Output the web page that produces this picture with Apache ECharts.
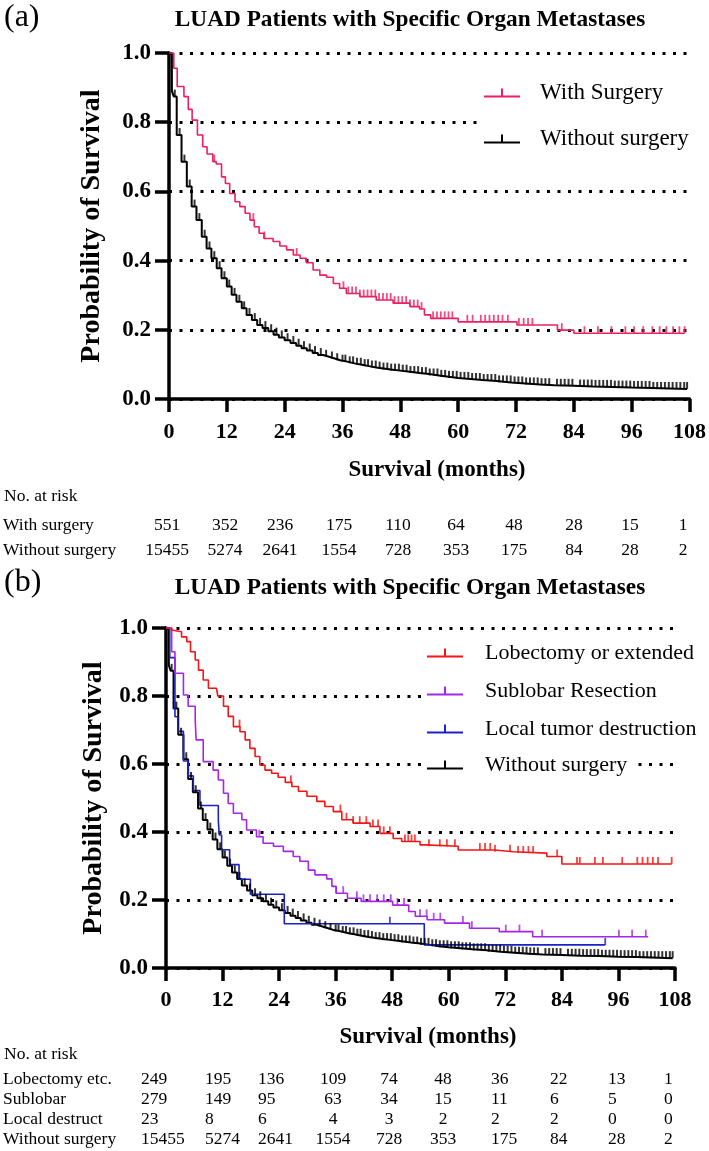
<!DOCTYPE html>
<html>
<head>
<meta charset="utf-8">
<script src="https://cdn.jsdelivr.net/npm/echarts@6/dist/echarts.min.js"></script>
<style>html,body{margin:0;padding:0;background:#fff}#c{width:709px;height:1151px}</style>
</head>
<body>
<div id="c"></div>
<script>
// ---------------- DATA ----------------
const titleText = "LUAD Patients with Specific Organ Metastases";
const xTicks = [0, 12, 24, 36, 48, 60, 72, 84, 96, 108];
const yTicks = [0, 0.2, 0.4, 0.6, 0.8, 1.0];

// Kaplan-Meier steps [month, survival after the step]
const withoutSurgery = [[0,1],[0.6,0.89],[1.0,0.874],[1.6,0.763],[2.6,0.686],[3.7,0.614],[4.7,0.556],[5.7,0.517],[6.8,0.469],[7.8,0.435],[8.8,0.407],[9.9,0.378],[10.9,0.349],[12.0,0.325],[13.0,0.301],[14.0,0.281],[15.1,0.262],[16.1,0.243],[17.2,0.228],[18.3,0.214],[19.4,0.205],[20.6,0.196],[21.7,0.186],[22.8,0.178],[24.0,0.170],[25.2,0.162],[26.4,0.154],[27.5,0.147],[28.6,0.140],[29.8,0.133],[30.9,0.127],[32.0,0.122],[33.2,0.117],[34.4,0.112],[35.5,0.108],[37.0,0.103],[38.5,0.099],[40.0,0.095],[41.5,0.091],[43.0,0.088],[44.5,0.085],[46.0,0.082],[48.0,0.079],[50.0,0.075],[52.0,0.072],[54.0,0.068],[56.0,0.064],[58.0,0.061],[60.0,0.058],[62.5,0.055],[65.0,0.052],[68.0,0.048],[71.0,0.045],[74.0,0.042],[77.0,0.040],[80.0,0.038],[84.0,0.036],[88.0,0.035],[92.0,0.033],[96.0,0.032],[100.0,0.029],[107.5,0.029]];
const withoutSurgeryCens = [1.2,2.2,3.2,4.3,5.3,6.3,7.4,8.4,9.4,10.5,11.5,12.5,13.6,14.6,15.6,16.7,17.8,18.9,20.0,21.2,22.3,23.4,24.6,25.8,26.9,28.0,29.2,30.3,31.5,32.6,33.8,34.9,36.0,36.6,37.5,38.2,39.0,39.8,40.6,41.3,42.1,42.9,43.7,44.5,45.3,46.1,46.9,47.7,48.5,49.3,50.1,50.9,51.7,52.5,53.3,54.1,54.9,55.7,56.5,57.3,58.1,58.9,59.7,60.5,61.3,62.1,62.9,63.7,64.5,65.3,66.1,66.9,67.7,68.5,69.3,70.1,70.9,71.7,72.5,73.3,74.1,74.9,75.7,76.5,77.3,78.1,78.9,80.5,81.3,82.1,82.9,83.7,85.3,86.1,86.9,87.7,88.5,89.3,90.1,90.9,91.7,92.5,93.3,94.1,94.9,95.7,96.5,97.3,98.1,98.9,99.7,100.5,101.3,102.1,102.9,103.7,104.5,105.3,106.1,106.9,107.5];

const withSurgery = [[0,1],[1,0.956],[1.7,0.903],[3.1,0.874],[4.0,0.837],[4.8,0.806],[5.9,0.763],[7.0,0.729],[7.9,0.708],[9.1,0.686],[9.8,0.679],[10.9,0.642],[11.7,0.623],[12.6,0.594],[13.7,0.570],[14.7,0.556],[15.8,0.537],[16.8,0.517],[17.7,0.498],[18.7,0.479],[19.7,0.464],[21.6,0.455],[23.0,0.442],[24.4,0.431],[25.8,0.416],[27.2,0.407],[28.5,0.394],[29.9,0.373],[31.3,0.358],[32.7,0.352],[34.1,0.334],[35.4,0.320],[36.8,0.305],[39.6,0.296],[43.0,0.286],[46.5,0.277],[50.0,0.267],[52.0,0.260],[53.0,0.243],[54.3,0.233],[60.0,0.223],[72.2,0.214],[80.6,0.199],[84.0,0.190],[107,0.190]];
const withSurgeryCens = [9.4,17.5,19.8,26.5,36.2,37.2,38.0,38.8,39.6,40.4,41.2,42.0,42.8,43.6,44.4,45.2,46.0,46.8,47.6,48.4,49.2,50.0,50.8,51.6,52.4,54.8,55.6,56.4,57.2,58.0,58.8,61.9,63.0,64.7,65.6,66.5,67.4,68.3,69.2,70.3,72.6,73.6,74.5,75.4,81.5,86.2,89.0,91.8,94.7,96.5,98.4,100.3,101.8,103.2,104.6,105.9,107];

const lobectomy = [[0,1],[1.2,0.994],[1.6,0.989],[3.3,0.974],[4.4,0.96],[5.2,0.93],[6.2,0.906],[6.9,0.876],[7.9,0.847],[9.0,0.823],[10.7,0.818],[11.0,0.80],[12.2,0.77],[13.2,0.74],[14.3,0.71],[15.7,0.695],[16.8,0.671],[17.8,0.646],[18.9,0.622],[19.9,0.597],[21.0,0.582],[22.4,0.573],[23.8,0.561],[25.3,0.546],[26.7,0.534],[28.1,0.52],[29.9,0.505],[32.0,0.49],[33.7,0.475],[35.5,0.46],[37.3,0.436],[39.7,0.426],[43.3,0.416],[45.4,0.396],[48.2,0.381],[50.0,0.372],[53.9,0.362],[55.0,0.358],[62.0,0.347],[69.8,0.342],[73.7,0.338],[80.8,0.328],[84.0,0.306],[107.3,0.306]];
const lobectomyCens = [15.6,26.5,37.0,38.3,39.7,41.1,42.5,43.9,45.0,46.2,47.5,50.7,51.4,52.1,52.8,55.8,58.1,59.6,61.3,66.6,67.7,68.8,69.8,73.0,74.7,75.8,76.9,77.9,83.0,87.2,87.8,91.0,92.7,96.8,100.0,101.1,102.2,103.3,104.4,107.3];

const sublobar = [[0,1],[1.2,0.93],[1.9,0.867],[3.7,0.803],[4.7,0.77],[6.2,0.729],[6.4,0.671],[7.9,0.607],[10.0,0.582],[11.1,0.553],[12.2,0.514],[13.2,0.484],[14.3,0.455],[16.1,0.436],[17.1,0.406],[19.2,0.386],[20.6,0.367],[22.8,0.358],[24.9,0.343],[27.0,0.328],[28.4,0.314],[30.2,0.288],[31.6,0.274],[34.1,0.262],[35.2,0.24],[36.1,0.22],[38.5,0.205],[41.4,0.196],[48.1,0.185],[51.5,0.166],[52.9,0.152],[55.4,0.142],[59.1,0.132],[64.4,0.117],[70.7,0.107],[77.8,0.092],[102.3,0.092]];
const sublobarCens = [19.8,36.1,37.6,40.5,41.9,43.3,44.8,46.2,47.7,49.1,50.5,53.9,55.3,56.8,58.2,63.0,64.9,72.1,75.0,79.8,96.1,98.9,101.8];

const localDestr = [[0,1],[0.8,0.913],[1.9,0.739],[2.5,0.696],[3.7,0.609],[4.7,0.565],[5.8,0.522],[7.2,0.478],[11.1,0.435],[11.3,0.391],[11.8,0.348],[13.5,0.304],[15.5,0.261],[17.9,0.217],[25.1,0.130],[54.8,0.068],[93.2,0.068]];
const localDestrCens = [47.5,93.2];

// number at risk
const riskA = {
  "With surgery":    [551,352,236,175,110,64,48,28,15,1],
  "Without surgery": [15455,5274,2641,1554,728,353,175,84,28,2]
};
const riskB = {
  "Lobectomy etc.":  [249,195,136,109,74,48,36,22,13,1],
  "Sublobar":        [279,149,95,63,34,15,11,6,5,0],
  "Local destruct":  [23,8,6,4,3,2,2,2,0,0],
  "Without surgery": [15455,5274,2641,1554,728,353,175,84,28,2]
};

// ---------------- STYLE / LAYOUT ----------------
const SERIF = "'Liberation Serif','Times New Roman',serif";
const C_PINK = '#EE1F60', C_RED = '#F41515', C_PURPLE = '#A526E8', C_BLUE = '#1C22C4', C_BLACK = '#000';
const colA = [167,225,280,339,398,456,514,574,630,683];           // centers
const colB = [141,205,258,333,389,443,491,550,608,664];
const alignB = ['left','left','left','center','center','center','left','left','left','left'];
const legendIcon = 'path://M0,7 L17,7 L17,0 L19,0 L19,7 L36,7 L36,9 L0,9 Z';

function survAt(steps, t) {
  let s = steps[0][1];
  for (const p of steps) { if (p[0] <= t) s = p[1]; else break; }
  return s;
}

const chart = echarts.init(document.getElementById('c'), null, {renderer: 'canvas'});

function yAxisCfg(gi) {
  return {
    gridIndex: gi, type: 'value', min: 0, max: 1, interval: 0.2,
    axisLine: {show: true, lineStyle: {color: '#000', width: 3.5}},
    axisTick: {show: true, inside: false, length: 14, lineStyle: {color: '#000', width: 3.5}},
    axisLabel: {margin: 18, color: '#000', fontFamily: SERIF, fontWeight: 'bold', fontSize: 23,
      formatter: v => v.toFixed(1)},
    splitLine: {show: true, lineStyle: {color: '#000', width: 3, type: [3, 7.5]}}
  };
}
function xAxisCfg(gi, margin) {
  return {
    gridIndex: gi, type: 'value', min: 0, max: 108, interval: 12,
    axisLine: {show: true, onZero: false, lineStyle: {color: '#000', width: 3.5}},
    axisTick: {show: true, length: 13, lineStyle: {color: '#000', width: 3.5}},
    axisLabel: {margin: margin, color: '#000', fontFamily: SERIF, fontWeight: 'bold', fontSize: 22,
      formatter: v => String(v)},
    splitLine: {show: false}
  };
}

function kmLine(name, data, color, gi, width) {
  return {name, type: 'line', step: 'end', xAxisIndex: gi, yAxisIndex: gi, data,
    showSymbol: false, symbol: 'none', color, itemStyle: {color},
    lineStyle: {color, width}, silent: true, z: 3};
}
function censors(name, steps, times, color, gi, w) {
  return {name, type: 'scatter', xAxisIndex: gi, yAxisIndex: gi,
    data: times.map(t => [t, survAt(steps, t)]),
    symbol: 'rect', symbolSize: [w, 7], symbolOffset: [0, -3.5],
    itemStyle: {color}, silent: true, z: 3};
}
function legendItem(name, left, cy, fontSize, pad, gap, padR) {
  return {data: [name], left: left, top: cy - 12 - pad, orient: 'horizontal',
    backgroundColor: '#fff', padding: [pad, padR || 4, pad, 4], icon: legendIcon,
    itemWidth: 36, itemHeight: 9, selectedMode: false,
    textStyle: {fontFamily: SERIF, fontSize: fontSize, color: '#000', lineHeight: 24, padding: [0, 0, 0, gap]}};
}

const graphic = [];
function txt(x, y, text, font, align, rot) {
  graphic.push({type: 'text', x, y, rotation: rot || 0, silent: true,
    style: {text, font, fill: '#000', textAlign: align || 'left', textVerticalAlign: 'middle'}});
}
txt(4, 18, '(a)', `32px ${SERIF}`);
txt(410, 20, titleText, `bold 23.3px ${SERIF}`, 'center');
txt(92, 226, 'Probability of Survival', `bold 28px ${SERIF}`, 'center', Math.PI / 2);
txt(437, 470, 'Survival (months)', `bold 23px ${SERIF}`, 'center');
txt(4, 496, 'No. at risk', `17.5px ${SERIF}`);
let ry = 525;
for (const k of Object.keys(riskA)) {
  txt(3, ry, k, `17.5px ${SERIF}`);
  riskA[k].forEach((v, i) => txt(colA[i], ry, String(v), `17.5px ${SERIF}`, 'center'));
  ry += 25;
}

txt(4, 583, '(b)', `32px ${SERIF}`);
txt(410, 588, titleText, `bold 23.3px ${SERIF}`, 'center');
txt(94, 798, 'Probability of Survival', `bold 28px ${SERIF}`, 'center', Math.PI / 2);
txt(428, 1037, 'Survival (months)', `bold 23px ${SERIF}`, 'center');
txt(4, 1054, 'No. at risk', `17.5px ${SERIF}`);
ry = 1079;
for (const k of Object.keys(riskB)) {
  txt(3, ry, k, `17.5px ${SERIF}`);
  riskB[k].forEach((v, i) => txt(colB[i], ry, String(v), `17.5px ${SERIF}`, alignB[i]));
  ry += 20;
}

chart.setOption({
  backgroundColor: '#fff',
  animation: false,
  grid: [
    {left: 169, top: 53, width: 521, height: 346},
    {left: 166, top: 628, width: 509, height: 340}
  ],
  xAxis: [xAxisCfg(0, 22), xAxisCfg(1, 21)],
  yAxis: [yAxisCfg(0), yAxisCfg(1)],
  legend: [
    legendItem('With Surgery', 480, 93, 23, 8, 15),
    legendItem('Without surgery', 480, 139, 23, 10, 15),
    legendItem('Lobectomy or extended', 423, 653, 22, 8, 17),
    legendItem('Sublobar Resection', 423, 691, 22, 10, 17, 25),
    legendItem('Local tumor destruction', 423, 729, 22, 10, 17),
    legendItem('Without surgery ', 423, 765, 22, 10, 17)
  ],
  series: [
    kmLine('Without surgery', withoutSurgery, C_BLACK, 0, 2),
    censors('cA0', withoutSurgery, withoutSurgeryCens, C_BLACK, 0, 2),
    kmLine('With Surgery', withSurgery, C_PINK, 0, 1.6),
    censors('cA1', withSurgery, withSurgeryCens, C_PINK, 0, 1.8),

    kmLine('Without surgery ', withoutSurgery, C_BLACK, 1, 2),
    censors('cB0', withoutSurgery, withoutSurgeryCens, C_BLACK, 1, 2),
    kmLine('Local tumor destruction', localDestr, C_BLUE, 1, 1.6),
    censors('cB1', localDestr, localDestrCens, C_BLUE, 1, 1.8),
    kmLine('Sublobar Resection', sublobar, C_PURPLE, 1, 1.6),
    censors('cB2', sublobar, sublobarCens, C_PURPLE, 1, 1.8),
    kmLine('Lobectomy or extended', lobectomy, C_RED, 1, 1.6),
    censors('cB3', lobectomy, lobectomyCens, C_RED, 1, 1.8)
  ],
  graphic: graphic
});
</script>
</body>
</html>
